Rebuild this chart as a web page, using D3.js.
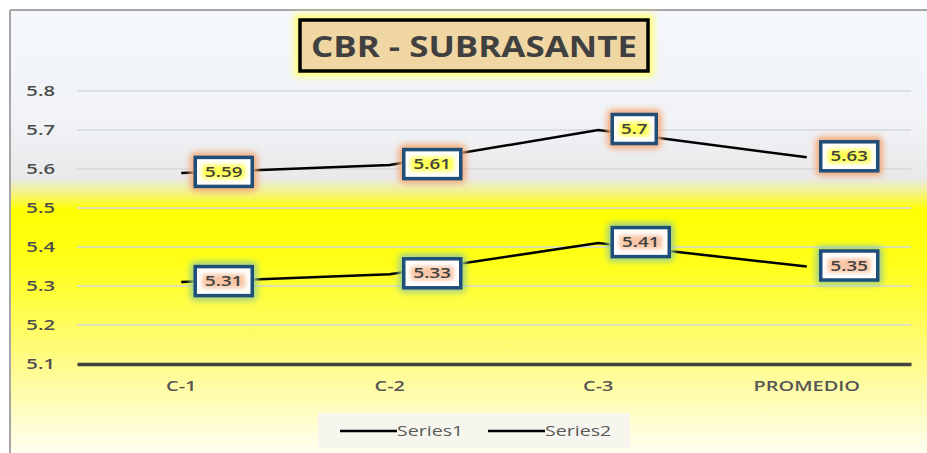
<!DOCTYPE html>
<html>
<head>
<meta charset="utf-8">
<script src="https://cdn.jsdelivr.net/npm/d3@7"></script>
<style>
  body { margin: 0; background: #ffffff; }
  svg { display: block; }
  text { font-family: "Open Sans", "Liberation Sans", sans-serif; }
</style>
</head>
<body>
<div id="chart"></div>
<script>
// chart data
const categories = ["C-1", "C-2", "C-3", "PROMEDIO"];
const series1 = [5.59, 5.61, 5.7, 5.63];
const series2 = [5.31, 5.33, 5.41, 5.35];
const seriesNames = ["Series1", "Series2"];
const yTicks = [5.1, 5.2, 5.3, 5.4, 5.5, 5.6, 5.7, 5.8];
const chartTitle = "CBR - SUBRASANTE";

const W = 927, H = 453;
const svg = d3.select("#chart").append("svg")
  .attr("width", W)
  .attr("height", H);

const defs = svg.append("defs");

// background gradient (grey-blue top, yellow band, pale bottom)
const grad = defs.append("linearGradient")
  .attr("id", "bg")
  .attr("gradientUnits", "userSpaceOnUse")
  .attr("x1", 0).attr("y1", 10).attr("x2", 0).attr("y2", H);
[[10, "#f4f7fc"], [120, "#f1f3f7"], [178, "#e9e9ea"], [192, "#f3f38a"], [210, "#ffff00"],
 [265, "#ffff1a"], [360, "#fffb86"], [453, "#fffff2"]].forEach(([y, c]) => {
  grad.append("stop").attr("offset", (y - 10) / (H - 10)).attr("stop-color", c);
});

// blur filters for glows
const blur = defs.append("filter").attr("id", "glow")
  .attr("x", "-40%").attr("y", "-60%").attr("width", "180%").attr("height", "220%");
blur.append("feGaussianBlur").attr("stdDeviation", 3);
const softBlur = defs.append("filter").attr("id", "soft")
  .attr("x", "-30%").attr("y", "-50%").attr("width", "160%").attr("height", "200%");
softBlur.append("feGaussianBlur").attr("stdDeviation", 2);

// frame
svg.append("rect")
  .attr("x", 10).attr("y", 10)
  .attr("width", W - 10).attr("height", H - 10)
  .attr("fill", "url(#bg)");
svg.append("line")
  .attr("x1", 10).attr("x2", W).attr("y1", 10).attr("y2", 10)
  .attr("stroke", "#a6a6a6").attr("stroke-width", 2);
svg.append("line")
  .attr("x1", 10).attr("x2", 10).attr("y1", 10).attr("y2", H)
  .attr("stroke", "#a6a6a6").attr("stroke-width", 2);

// scales
const x = d3.scaleBand()
  .domain(categories)
  .range([77, 911]);

const y = d3.scaleLinear()
  .domain([5.1, 5.8])
  .range([364, 91]);

// the source picture is stretched sideways, so text is widened a bit
function stretch(sel, sx) {
  sel.each(function () {
    const t = d3.select(this);
    const tx = +t.attr("x") || 0, ty = +t.attr("y") || 0;
    t.attr("x", 0).attr("y", 0)
      .attr("transform", `translate(${tx},${ty}) scale(${sx},1)`);
  });
}

// gridlines
svg.append("g")
  .selectAll("line")
  .data(yTicks.slice(1))
  .enter()
  .append("line")
    .attr("x1", 77).attr("x2", 911)
    .attr("y1", d => y(d)).attr("y2", d => y(d))
    .attr("stroke", "#d4d8de")
    .attr("stroke-width", 1.5);

// Y axis labels
const yAxis = svg.append("g")
  .attr("transform", "translate(55,0)")
  .call(d3.axisLeft(y).tickValues(yTicks).tickSize(0).tickPadding(0).tickFormat(d3.format(".1f")));
yAxis.select(".domain").remove();
yAxis.selectAll("text")
  .attr("fill", "#4d4d4d")
  .attr("font-size", 15)
  .attr("font-weight", 600)
  .call(stretch, 1.35);

// X axis
const xAxis = svg.append("g")
  .attr("transform", `translate(0,${y(5.1)})`)
  .call(d3.axisBottom(x).tickSize(0).tickPadding(16));
xAxis.select(".domain")
  .attr("stroke", "#404040")
  .attr("stroke-width", 3.5);
xAxis.selectAll("text")
  .attr("fill", "#555555")
  .attr("font-size", 15)
  .attr("font-weight", 600)
  .call(stretch, 1.33);

// lines
const lineGen = d3.line()
  .x((d, i) => x(categories[i]) + x.bandwidth() / 2)
  .y(d => y(d));

[series1, series2].forEach(vals => {
  svg.append("path")
    .datum(vals)
    .attr("fill", "none")
    .attr("stroke", "#000000")
    .attr("stroke-width", 2.5)
    .attr("d", lineGen);
});

// data labels
function drawLabels(vals, glowColor, textGlow) {
  const g = svg.append("g");
  vals.forEach((v, i) => {
    const txt = String(v);
    const bw = txt.length > 3 ? 57 : 44;
    const bh = 29;
    const cx = x(categories[i]) + x.bandwidth() / 2 + 14 + bw / 2;
    const cy = y(v) - 1;
    const lg = g.append("g").attr("transform", `translate(${cx},${cy})`);
    lg.append("rect")
      .attr("x", -bw / 2 - 5).attr("y", -bh / 2 - 5)
      .attr("width", bw + 10).attr("height", bh + 10)
      .attr("rx", 5)
      .attr("fill", glowColor)
      .attr("filter", "url(#glow)");
    lg.append("rect")
      .attr("x", -bw / 2).attr("y", -bh / 2)
      .attr("width", bw).attr("height", bh)
      .attr("fill", "#ffffff")
      .attr("stroke", "#1f4e79")
      .attr("stroke-width", 3.5);
    lg.append("rect")
      .attr("x", -bw / 2 + 7).attr("y", -7)
      .attr("width", bw - 14).attr("height", 14)
      .attr("fill", textGlow)
      .attr("filter", "url(#soft)");
    lg.append("text")
      .attr("text-anchor", "middle")
      .attr("y", 5)
      .attr("font-size", 15)
      .attr("font-weight", 600)
      .attr("fill", "#404040")
      .text(txt)
      .call(stretch, 1.25);
  });
}
drawLabels(series1, "#f4a877", "#ffff55");
drawLabels(series2, "#9fd08a", "#f8c6a6");

// title
const tg = svg.append("g");
tg.append("rect")
  .attr("x", 294).attr("y", 14).attr("width", 360).attr("height", 63)
  .attr("fill", "#ffff80")
  .attr("filter", "url(#glow)");
tg.append("rect")
  .attr("x", 300).attr("y", 20).attr("width", 348).attr("height", 51)
  .attr("fill", "#efd6a2")
  .attr("stroke", "#000000")
  .attr("stroke-width", 3.5);
tg.append("text")
  .attr("x", 474).attr("y", 57)
  .attr("text-anchor", "middle")
  .attr("font-size", 29)
  .attr("font-weight", 700)
  .attr("fill", "#404040")
  .attr("textLength", 326)
  .attr("lengthAdjust", "spacingAndGlyphs")
  .text(chartTitle);

// legend
const legend = svg.append("g");
legend.append("rect")
  .attr("x", 318).attr("y", 413).attr("width", 312).attr("height", 35)
  .attr("fill", "#f6f6ee");
const legendX = [340, 488];
seriesNames.forEach((name, i) => {
  legend.append("line")
    .attr("x1", legendX[i]).attr("x2", legendX[i] + 57)
    .attr("y1", 431).attr("y2", 431)
    .attr("stroke", "#000000")
    .attr("stroke-width", 2.5);
  legend.append("text")
    .attr("x", legendX[i] + 57).attr("y", 436)
    .attr("font-size", 14)
    .attr("fill", "#595959")
    .text(name)
    .call(stretch, 1.4);
});
</script>
</body>
</html>
